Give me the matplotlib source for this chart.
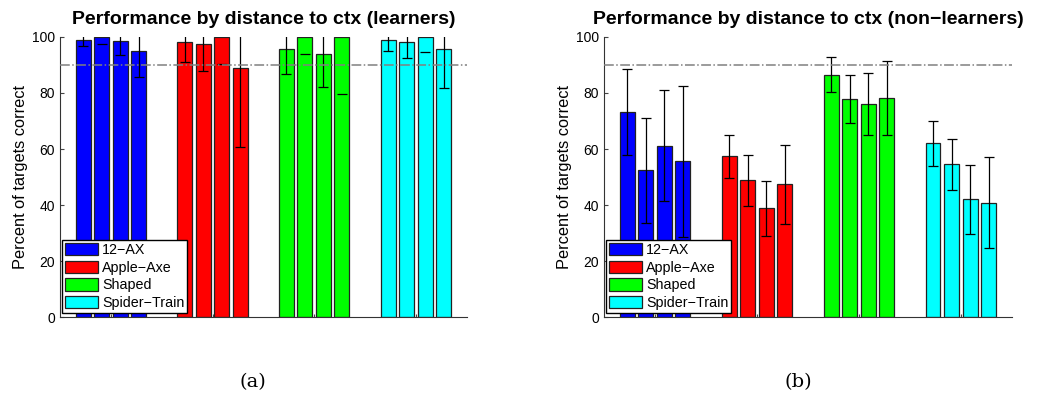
import numpy as np
import matplotlib
matplotlib.use('Agg')
import matplotlib.pyplot as plt

plt.rcParams['font.family'] = ['Liberation Sans', 'DejaVu Sans']

tasks = ['12\u2212AX', 'Apple\u2212Axe', 'Shaped', 'Spider\u2212Train']
colors = ['#0000ff', '#ff0000', '#00ff00', '#00ffff']

# 每组四根柱：距离 ctx 的四个档位
learn_mean = [
    [98.8, 100.0, 98.6, 95.1],
    [98.1, 97.5, 100.0, 89.0],
    [95.7, 100.0, 93.9, 100.0],
    [98.8, 98.3, 100.0, 95.6],
]
learn_err = [
    [2.1, 2.5, 5.0, 9.5],
    [6.9, 9.6, 9.7, 28.3],
    [8.9, 6.0, 11.7, 20.4],
    [3.8, 5.7, 5.2, 13.9],
]
nonlearn_mean = [
    [73.2, 52.4, 61.2, 55.6],
    [57.4, 48.9, 38.9, 47.4],
    [86.6, 77.9, 76.0, 78.2],
    [62.1, 54.5, 42.0, 40.8],
]
nonlearn_err = [
    [15.5, 18.8, 19.9, 27.0],
    [7.7, 9.1, 9.8, 14.1],
    [6.2, 8.5, 11.0, 13.3],
    [8.0, 9.0, 12.2, 16.2],
]
criterion = 90

titles = ['Performance by distance to ctx (learners)',
          'Performance by distance to ctx (non\u2212learners)']
captions = ['(a)', '(b)']


def draw_panel(ax, means, errs, title):
    means = np.array(means)
    errs = np.array(errs)
    offsets = (np.arange(4) - 1.5) * 0.182
    width = 0.147
    for g in range(4):
        xs = g + 1 + offsets
        ax.bar(xs, means[g], width, color=colors[g], edgecolor='#222222',
               linewidth=0.9, label=tasks[g], zorder=2)
        full = means[g] < 100
        ax.errorbar(xs[full], means[g][full], yerr=errs[g][full], fmt='none',
                    ecolor='black', elinewidth=0.9, capsize=3.5, capthick=0.9,
                    zorder=3)
        # 均值为 100 的柱只剩下端短横
        if (~full).any():
            ax.plot(xs[~full], means[g][~full] - errs[g][~full], ls='none',
                    marker='_', ms=7, mew=0.9, color='black', zorder=3)
    ax.axhline(criterion, color='#808080', ls='-.', lw=1.1, zorder=4)
    ax.set_xlim(0.5, 4.5)
    ax.set_ylim(0, 100)
    ax.set_yticks(np.arange(0, 101, 20))
    ax.set_xticks([1, 2, 3, 4])
    ax.set_xticklabels([])
    ax.tick_params(direction='in', length=3, labelsize=10, color='#444444')
    ax.tick_params(axis='x', length=2)
    for side in ('top', 'right'):
        ax.spines[side].set_visible(False)
    ax.spines['left'].set_color('#333333')
    ax.spines['bottom'].set_color('#333333')
    ax.set_ylabel('Percent of targets correct', fontsize=11.8, labelpad=3)
    ax.set_title(title, fontsize=14, fontweight='bold', pad=9)
    leg = ax.legend(loc='lower left', bbox_to_anchor=(0.005, 0.015),
                    fontsize=10.3, handlelength=2.3, handleheight=0.95,
                    handletextpad=0.3, labelspacing=0.25, borderpad=0.2,
                    borderaxespad=0, fancybox=False, framealpha=1)
    leg.get_frame().set_edgecolor('black')
    leg.get_frame().set_linewidth(1.0)
    leg.set_zorder(5)


fig = plt.figure(figsize=(10.43, 3.94), dpi=100)
ax1 = fig.add_axes([0.0575, 0.1954, 0.390, 0.7107])
ax2 = fig.add_axes([0.5791, 0.1954, 0.391, 0.7107])
draw_panel(ax1, learn_mean, learn_err, titles[0])
draw_panel(ax2, nonlearn_mean, nonlearn_err, titles[1])

for xc, cap in zip([253, 798], captions):
    fig.text(xc / 1043, 1 - 382 / 394, cap, family='DejaVu Serif',
             fontsize=14, ha='center', va='center')

fig.savefig('out.png', dpi=100)
